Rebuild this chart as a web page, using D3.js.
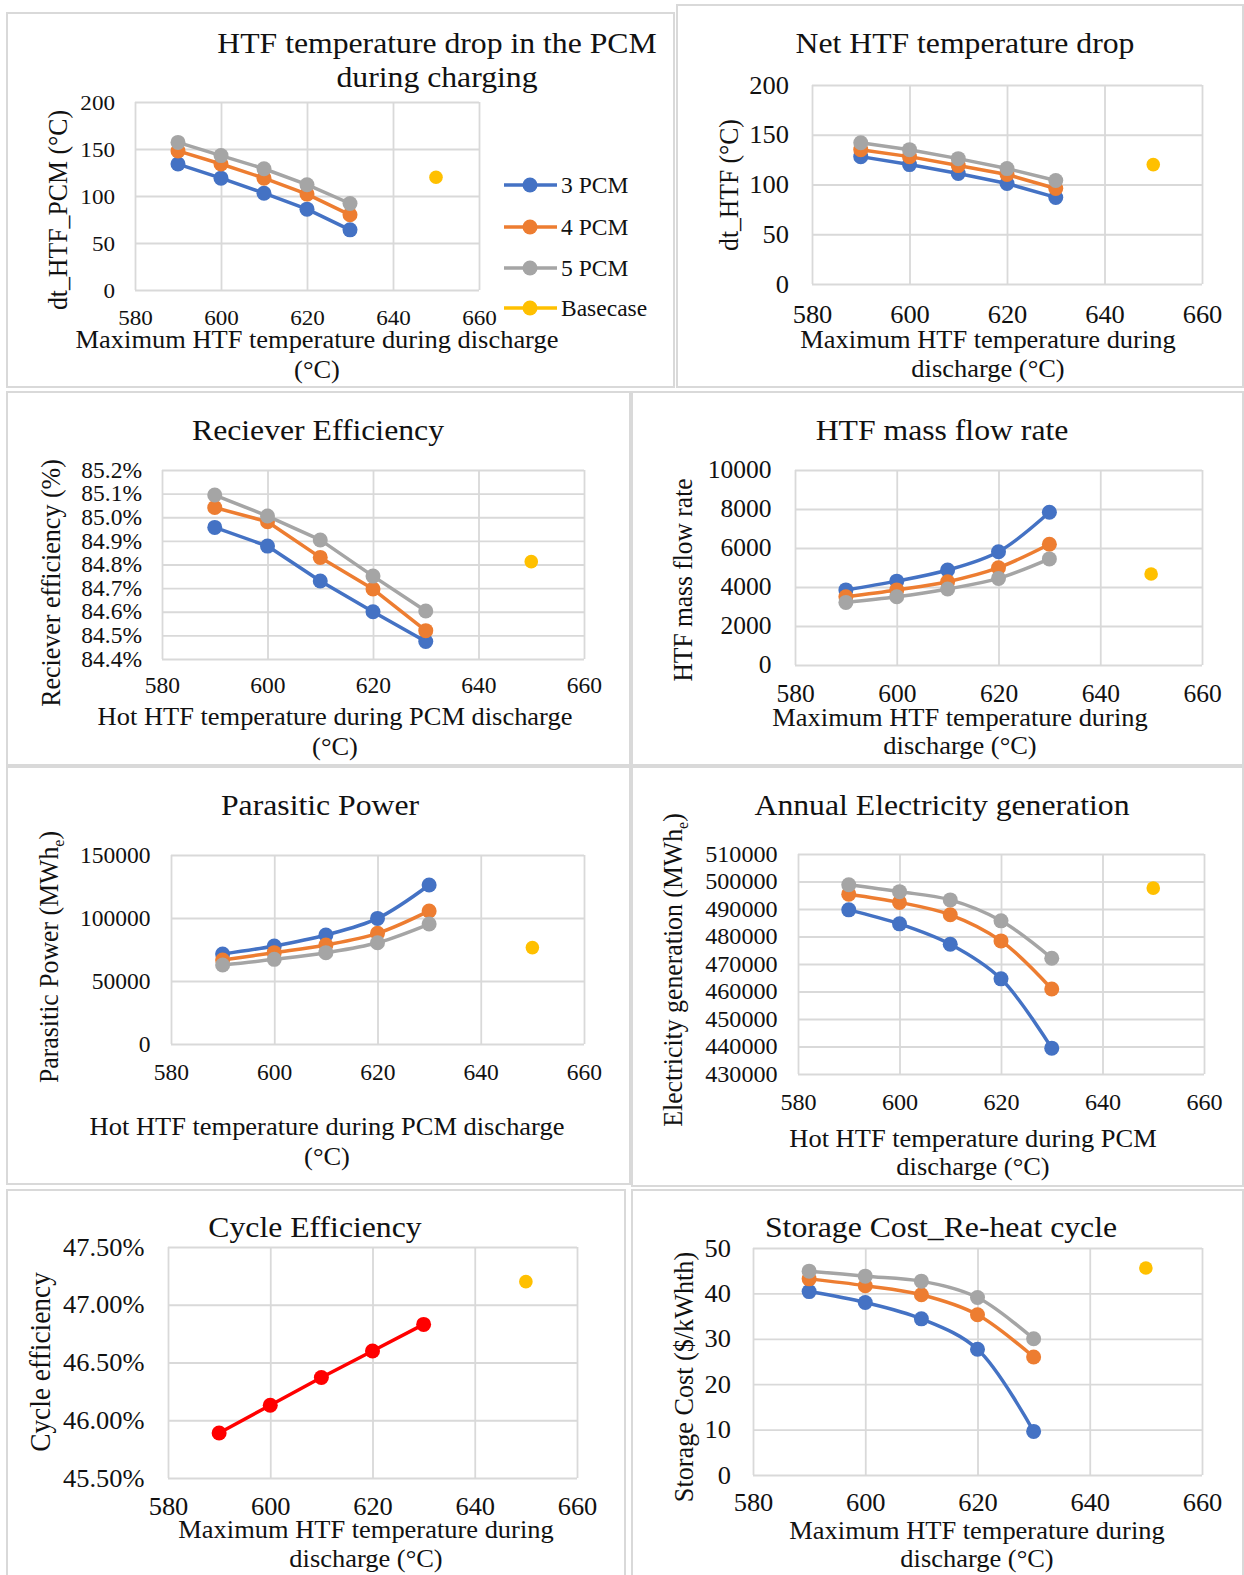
<!DOCTYPE html>
<html>
<head>
<meta charset="utf-8">
<script src="https://cdn.jsdelivr.net/npm/d3@7"></script>
<style>
  html, body { margin: 0; padding: 0; background: #fff; }
  svg { display: block; }
</style>
</head>
<body>
<svg id="fig" width="1244" height="1575"></svg>
<script>
// ---------- shared x values ----------
const tempTicks = [580, 600, 620, 640, 660];
const xTemps = [590, 600, 610, 620, 630];
const baseTemp = 650;
const seriesLabels = ["3 PCM", "4 PCM", "5 PCM", "Basecase"];

// ---------- HTF temperature drop in the PCM during charging (°C) ----------
const dtPcm3 = [134, 119, 103, 86, 64];
const dtPcm4 = [148, 134, 119, 102, 80];
const dtPcm5 = [157, 143, 129, 112, 92];
const dtPcmBase = 120;
const dtPcmTicks = [0, 50, 100, 150, 200];

// ---------- Net HTF temperature drop (°C) ----------
const dtNet3 = [128, 120, 111, 101, 87];
const dtNet4 = [135, 128, 119, 110, 96];
const dtNet5 = [142, 135, 126, 116, 104];
const dtNetBase = 120;
const dtNetTicks = [0, 50, 100, 150, 200];

// ---------- Receiver efficiency (%) ----------
const recv3 = [84.957, 84.878, 84.730, 84.600, 84.474];
const recv4 = [85.041, 84.981, 84.830, 84.696, 84.520];
const recv5 = [85.094, 85.005, 84.904, 84.751, 84.603];
const recvBase = 84.812;
const recvTicks = [84.4, 84.5, 84.6, 84.7, 84.8, 84.9, 85.0, 85.1, 85.2];

// ---------- HTF mass flow rate ----------
const flow3 = [3850, 4300, 4870, 5810, 7830];
const flow4 = [3500, 3850, 4270, 4990, 6190];
const flow5 = [3210, 3500, 3900, 4440, 5440];
const flowBase = 4670;
const flowTicks = [0, 2000, 4000, 6000, 8000, 10000];

// ---------- Parasitic power (MWh_e) ----------
const para3 = [71400, 77800, 86500, 99700, 126200];
const para4 = [66700, 72500, 78600, 87800, 105600];
const para5 = [62700, 67200, 72500, 80400, 95200];
const paraBase = 76500;
const paraTicks = [0, 50000, 100000, 150000];

// ---------- Annual electricity generation (MWh_e) ----------
const elec3 = [489700, 484600, 477200, 464600, 439400];
const elec4 = [495400, 492400, 487900, 478400, 460900];
const elec5 = [498800, 496300, 493300, 485700, 472100];
const elecBase = 497600;
const elecTicks = [430000, 440000, 450000, 460000, 470000, 480000, 490000, 500000, 510000];

// ---------- Cycle efficiency (%) ----------
const cycleEff = [45.89, 46.13, 46.37, 46.60, 46.83];
const cycleBase = 47.20;
const cycleTicks = [45.5, 46.0, 46.5, 47.0, 47.5];

// ---------- Storage cost, re-heat cycle ($/kWhth) ----------
const cost3 = [40.4, 38.0, 34.4, 27.7, 9.6];
const cost4 = [43.2, 41.7, 39.7, 35.3, 26.0];
const cost5 = [44.9, 43.8, 42.7, 39.1, 30.0];
const costBase = 45.6;
const costTicks = [0, 10, 20, 30, 40, 50];

// ---------- styling ----------
const FONT = "'Liberation Serif','Times New Roman',Times,serif";
const TEXT = "#111";
const GRID = "#d9d9d9";
const BLUE = "#4472C4", ORANGE = "#ED7D31", GRAY = "#A5A5A5", GOLD = "#FFC000", RED = "#FF0000";
const SX = 1.05;            // slight horizontal widening of the serif glyphs
const TITLE_SIZE = 30.2;
const XTITLE_SIZE = 25.2;
const MARKER_R = 7.5;

const fmtInt = d3.format("d");
const fmtPct1 = v => v.toFixed(1) + "%";
const fmtPct2 = v => v.toFixed(2) + "%";

const panels = [
  { box: [7, 13, 667, 374], L: 135, R: 479, T: 102, B: 290,
    domain: [0, 200], yTicks: dtPcmTicks, fmt: fmtInt, tick: 22, yPad: 20, xPad: 19,
    title: ["HTF temperature drop in the PCM", "during charging"], titleX: 437, titleY: [53, 87],
    xTitle: ["Maximum HTF temperature during discharge", "(°C)"], xTitleX: 317, xTitleY: [348, 378],
    yTitle: [["dt_HTF_PCM (°C)"]], yTitleX: 58, yTitleY: 210, ySize: 25.8,
    series: [dtPcm3, dtPcm4, dtPcm5], colors: [BLUE, ORANGE, GRAY], base: dtPcmBase, smooth: false, legend: true },
  { box: [677, 5, 566, 382], L: 812, R: 1202, T: 85, B: 284,
    domain: [0, 200], yTicks: dtNetTicks, fmt: fmtInt, tick: 25.2, yPad: 23, xPad: 21,
    title: ["Net HTF temperature drop"], titleX: 965, titleY: [53],
    xTitle: ["Maximum HTF temperature during", "discharge (°C)"], xTitleX: 988, xTitleY: [348, 377],
    yTitle: [["dt_HTF (°C)"]], yTitleX: 729, yTitleY: 185, ySize: 25.6,
    series: [dtNet3, dtNet4, dtNet5], colors: [BLUE, ORANGE, GRAY], base: dtNetBase, smooth: false },
  { box: [7, 392, 623, 373], L: 162, R: 584, T: 470, B: 659,
    domain: [84.4, 85.2], yTicks: recvTicks, fmt: fmtPct1, tick: 22.4, yPad: 20, xPad: 18,
    title: ["Reciever Efficiency"], titleX: 318, titleY: [440],
    xTitle: ["Hot HTF temperature during PCM discharge", "(°C)"], xTitleX: 335, xTitleY: [725, 755],
    yTitle: [["Reciever efficiency (%)"]], yTitleX: 51, yTitleY: 583, ySize: 26,
    series: [recv3, recv4, recv5], colors: [BLUE, ORANGE, GRAY], base: recvBase, smooth: false },
  { box: [632, 392, 611, 373], L: 795, R: 1202, T: 470, B: 665,
    domain: [0, 10000], yTicks: flowTicks, fmt: fmtInt, tick: 24.3, yPad: 23.6, xPad: 19.5,
    title: ["HTF mass flow rate"], titleX: 942, titleY: [440],
    xTitle: ["Maximum HTF temperature during", "discharge (°C)"], xTitleX: 960, xTitleY: [726, 754],
    yTitle: [["HTF mass flow rate"]], yTitleX: 683, yTitleY: 580, ySize: 25.5,
    series: [flow3, flow4, flow5], colors: [BLUE, ORANGE, GRAY], base: flowBase, smooth: true },
  { box: [7, 767, 623, 417], L: 171, R: 584, T: 855, B: 1044,
    domain: [0, 150000], yTicks: paraTicks, fmt: fmtInt, tick: 22.4, yPad: 20.6, xPad: 20,
    title: ["Parasitic Power"], titleX: 320, titleY: [815],
    xTitle: ["Hot HTF temperature during PCM discharge", "(°C)"], xTitleX: 327, xTitleY: [1135, 1165],
    yTitle: [["Parasitic Power (MWh"], ["e", "sub"], [")"]], yTitleX: 49, yTitleY: 957, ySize: 25.8,
    series: [para3, para4, para5], colors: [BLUE, ORANGE, GRAY], base: paraBase, smooth: true },
  { box: [632, 767, 611, 419], L: 798, R: 1204, T: 854, B: 1074,
    domain: [430000, 510000], yTicks: elecTicks, fmt: fmtInt, tick: 23, yPad: 20.4, xPad: 19.7,
    title: ["Annual Electricity generation"], titleX: 942, titleY: [815],
    xTitle: ["Hot HTF temperature during PCM", "discharge  (°C)"], xTitleX: 973, xTitleY: [1147, 1175],
    yTitle: [["Electricity generation (MWh"], ["e", "sub"], [")"]], yTitleX: 673, yTitleY: 970, ySize: 25.8,
    series: [elec3, elec4, elec5], colors: [BLUE, ORANGE, GRAY], base: elecBase, smooth: true },
  { box: [7, 1190, 618, 400], L: 168, R: 577, T: 1247, B: 1478,
    domain: [45.5, 47.5], yTicks: cycleTicks, fmt: fmtPct2, tick: 25.2, yPad: 23.4, xPad: 19.5,
    title: ["Cycle Efficiency"], titleX: 315, titleY: [1237],
    xTitle: ["Maximum HTF temperature during", "discharge (°C)"], xTitleX: 366, xTitleY: [1538, 1567],
    yTitle: [["Cycle efficiency"]], yTitleX: 40, yTitleY: 1362, ySize: 27.4,
    series: [cycleEff], colors: [RED], base: cycleBase, smooth: false },
  { box: [632, 1190, 611, 400], L: 753, R: 1202, T: 1248, B: 1475,
    domain: [0, 50], yTicks: costTicks, fmt: fmtInt, tick: 25.2, yPad: 22, xPad: 18,
    title: ["Storage Cost_Re-heat cycle"], titleX: 941, titleY: [1237],
    xTitle: ["Maximum HTF temperature during", "discharge (°C)"], xTitleX: 977, xTitleY: [1539, 1567],
    yTitle: [["Storage Cost ($/kWhth)"]], yTitleX: 684, yTitleY: 1377, ySize: 26.2,
    series: [cost3, cost4, cost5], colors: [BLUE, ORANGE, GRAY], base: costBase, smooth: true }
];

const svg = d3.select("#fig");
svg.append("rect").attr("width", 1244).attr("height", 1575).attr("fill", "#fff");

// horizontal text (slightly widened)
function hText(g, x, y, str, size, anchor = "middle") {
  return g.append("text")
    .attr("transform", `translate(${x},${y}) scale(${SX},1)`)
    .attr("text-anchor", anchor)
    .attr("font-family", FONT)
    .attr("font-size", size)
    .attr("fill", TEXT)
    .text(str);
}

// vertical axis title, reading bottom to top, centred on (x, y); parts may hold a subscript
function vText(g, x, y, parts, size) {
  const t = g.append("text")
    .attr("transform", `translate(${x},${y}) rotate(-90) scale(1,${SX})`)
    .attr("text-anchor", "middle")
    .attr("dy", "0.33em")
    .attr("font-family", FONT)
    .attr("font-size", size)
    .attr("fill", TEXT);
  let prevSub = false;
  parts.forEach(([s, kind]) => {
    const sp = t.append("tspan").text(s);
    if (kind === "sub") {
      sp.attr("font-size", size * 0.62).attr("dy", size * 0.22);
      prevSub = true;
    } else if (prevSub) {
      sp.attr("dy", -size * 0.22);
      prevSub = false;
    }
  });
  return t;
}

function drawPanel(p) {
  const g = svg.append("g");
  g.append("rect")
    .attr("x", p.box[0]).attr("y", p.box[1])
    .attr("width", p.box[2]).attr("height", p.box[3])
    .attr("fill", "#fff").attr("stroke", GRID).attr("stroke-width", 2);

  const x = d3.scaleLinear().domain([580, 660]).range([p.L, p.R]);
  const y = d3.scaleLinear().domain(p.domain).range([p.B, p.T]);

  // gridlines
  g.append("g").attr("transform", `translate(${p.L},0)`)
    .call(d3.axisLeft(y).tickValues(p.yTicks).tickSize(-(p.R - p.L)).tickFormat(""))
    .call(s => s.select(".domain").remove())
    .selectAll("line").attr("stroke", GRID).attr("stroke-width", 1.8);
  g.append("g").attr("transform", `translate(0,${p.B})`)
    .call(d3.axisBottom(x).tickValues(tempTicks).tickSize(-(p.B - p.T)).tickFormat(""))
    .call(s => s.select(".domain").remove())
    .selectAll("line").attr("stroke", GRID).attr("stroke-width", 1.8);

  // tick labels
  g.append("g").attr("transform", `translate(${p.L},0)`)
    .call(d3.axisLeft(y).tickValues(p.yTicks).tickSize(0).tickPadding(p.yPad / SX).tickFormat(p.fmt))
    .call(s => s.select(".domain").remove())
    .selectAll("text")
    .attr("font-family", FONT).attr("font-size", p.tick).attr("fill", TEXT)
    .attr("transform", `scale(${SX},1)`);
  g.append("g").attr("transform", `translate(0,${p.B})`)
    .call(d3.axisBottom(x).tickValues(tempTicks).tickSize(0).tickPadding(p.xPad).tickFormat(fmtInt))
    .call(s => s.select(".domain").remove())
    .selectAll("text")
    .attr("font-family", FONT).attr("font-size", p.tick).attr("fill", TEXT)
    .attr("transform", `scale(${SX},1)`);

  // series lines + markers
  const line = d3.line()
    .x((d, i) => x(xTemps[i]))
    .y(d => y(d))
    .curve(p.smooth ? d3.curveCatmullRom : d3.curveLinear);
  p.series.forEach((vals, si) => {
    const c = p.colors[si];
    g.append("path").datum(vals)
      .attr("d", line)
      .attr("fill", "none").attr("stroke", c)
      .attr("stroke-width", 3.5).attr("stroke-linejoin", "round").attr("stroke-linecap", "round");
    g.append("g").selectAll("circle").data(vals).join("circle")
      .attr("cx", (d, i) => x(xTemps[i])).attr("cy", d => y(d))
      .attr("r", MARKER_R).attr("fill", c);
  });
  g.append("circle")
    .attr("cx", x(baseTemp)).attr("cy", y(p.base))
    .attr("r", 6.8).attr("fill", GOLD);

  // titles
  p.title.forEach((s, i) => hText(g, p.titleX, p.titleY[i], s, TITLE_SIZE));
  p.xTitle.forEach((s, i) => hText(g, p.xTitleX, p.xTitleY[i], s, XTITLE_SIZE));
  vText(g, p.yTitleX, p.yTitleY, p.yTitle, p.ySize);

  // legend
  if (p.legend) {
    const rowsY = [185, 227, 268, 308];
    const cols = [BLUE, ORANGE, GRAY, GOLD];
    seriesLabels.forEach((lab, i) => {
      const ly = rowsY[i];
      g.append("line").attr("x1", 504).attr("x2", 557).attr("y1", ly).attr("y2", ly)
        .attr("stroke", cols[i]).attr("stroke-width", 3.5);
      g.append("circle").attr("cx", 530).attr("cy", ly).attr("r", MARKER_R).attr("fill", cols[i]);
      hText(g, 561, ly + 7.5, lab, 22.4, "start");
    });
  }
}

panels.forEach(drawPanel);
</script>
</body>
</html>
